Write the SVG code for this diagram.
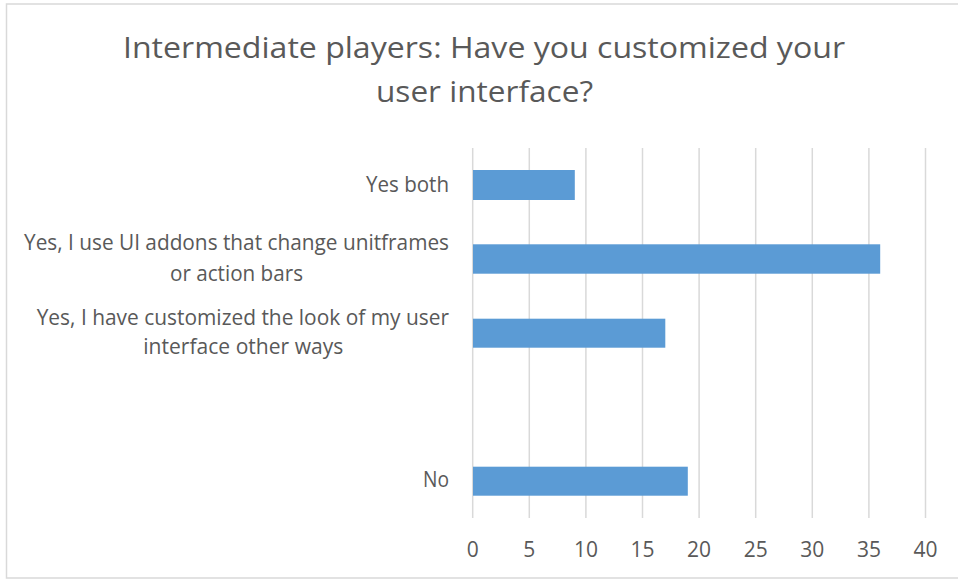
<svg xmlns="http://www.w3.org/2000/svg" width="958" height="579" viewBox="0 0 958 579">
<style>
.t{font-family:"Open Sans","Liberation Sans",sans-serif;fill:#595959}
.title{font-size:30px}
.lab{font-size:21px}
.tick{font-size:21px;text-anchor:middle}
.grid line{stroke:#D9D9D9;stroke-width:1.5}
.bar{fill:#5B9BD5}
</style>
<rect x="0" y="0" width="958" height="579" fill="#FFFFFF"/>
<rect x="6.5" y="4" width="953" height="574" fill="none" stroke="#D9D9D9" stroke-width="1.5"/>
<g id="title">
<text class="t title" x="123" y="57.5" textLength="722" lengthAdjust="spacingAndGlyphs">Intermediate players: Have you customized your</text>
<text class="t title" x="376" y="101.5" textLength="217" lengthAdjust="spacingAndGlyphs">user interface?</text>
</g>
<g id="gridlines" class="grid">
<line x1="472.7" y1="148" x2="472.7" y2="518"/>
<line x1="529.3" y1="148" x2="529.3" y2="518"/>
<line x1="585.9" y1="148" x2="585.9" y2="518"/>
<line x1="642.5" y1="148" x2="642.5" y2="518"/>
<line x1="699.1" y1="148" x2="699.1" y2="518"/>
<line x1="755.7" y1="148" x2="755.7" y2="518"/>
<line x1="812.3" y1="148" x2="812.3" y2="518"/>
<line x1="868.9" y1="148" x2="868.9" y2="518"/>
<line x1="925.5" y1="148" x2="925.5" y2="518"/>
</g>
<g id="ticks">
<text class="t tick" x="472.7" y="557">0</text>
<text class="t tick" x="529.3" y="557">5</text>
<text class="t tick" x="585.9" y="557">10</text>
<text class="t tick" x="642.5" y="557">15</text>
<text class="t tick" x="699.1" y="557">20</text>
<text class="t tick" x="755.7" y="557">25</text>
<text class="t tick" x="812.3" y="557">30</text>
<text class="t tick" x="868.9" y="557">35</text>
<text class="t tick" x="925.5" y="557">40</text>
</g>
<g id="bar-yes-both">
<rect class="bar" x="473" y="170" width="101.8" height="30"/>
<text class="t lab" x="449" y="192" text-anchor="end" textLength="83" lengthAdjust="spacingAndGlyphs">Yes both</text>
</g>
<g id="bar-ui-addons">
<rect class="bar" x="473" y="244.3" width="407.2" height="29.4"/>
<text class="t lab" x="24" y="250" textLength="425" lengthAdjust="spacingAndGlyphs">Yes, I use UI addons that change unitframes</text>
<text class="t lab" x="170" y="280.7" textLength="133" lengthAdjust="spacingAndGlyphs">or action bars</text>
</g>
<g id="bar-customized">
<rect class="bar" x="473" y="318.7" width="192.3" height="29"/>
<text class="t lab" x="36.7" y="325" textLength="412.3" lengthAdjust="spacingAndGlyphs">Yes, I have customized the look of my user</text>
<text class="t lab" x="143.3" y="354" textLength="200" lengthAdjust="spacingAndGlyphs">interface other ways</text>
</g>
<g id="bar-no">
<rect class="bar" x="473" y="466.7" width="214.8" height="29"/>
<text class="t lab" x="449" y="487.3" text-anchor="end" textLength="26" lengthAdjust="spacingAndGlyphs">No</text>
</g>
</svg>
